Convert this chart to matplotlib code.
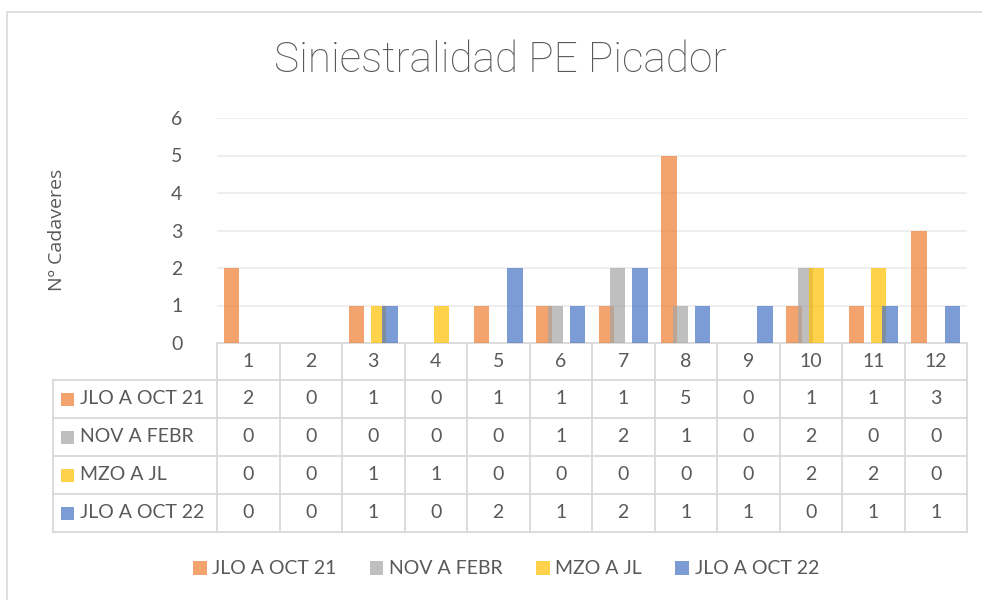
import matplotlib
matplotlib.use("Agg")

import matplotlib.pyplot as plt
import numpy as np
from matplotlib.patches import Rectangle
from matplotlib.lines import Line2D
from matplotlib.transforms import blended_transform_factory

plt.rcParams["font.family"] = ["Lato", "DejaVu Sans"]

# ── data ───────────────────────────────────────────────────────────────────
categories = ["1", "2", "3", "4", "5", "6", "7", "8", "9", "10", "11", "12"]
series_names = ["JLO A OCT 21", "NOV A FEBR", "MZO A JL", "JLO A OCT 22"]
jlo_oct_21 = [2, 0, 1, 0, 1, 1, 1, 5, 0, 1, 1, 3]
nov_febr   = [0, 0, 0, 0, 0, 1, 2, 1, 0, 2, 0, 0]
mzo_jl     = [0, 0, 1, 1, 0, 0, 0, 0, 0, 2, 2, 0]
jlo_oct_22 = [0, 0, 1, 0, 2, 1, 2, 1, 1, 0, 1, 1]
yticks = [0, 1, 2, 3, 4, 5, 6]

colors = ["#ED7D31", "#A5A5A5", "#FFC000", "#4472C4"]
TXT = "#595959"
LINE = "#D9D9D9"
FS = 14

W, H = 982, 600
fig = plt.figure(figsize=(W / 100, H / 100), dpi=100)
fig.patch.set_facecolor("white")


def fx(px):
    return px / W


def fy(py):
    return 1 - py / H


# outer chart border
fig.add_artist(Rectangle((fx(7), -0.05), 1.2, fy(12) + 0.05, transform=fig.transFigure,
                         facecolor="none", edgecolor=LINE, lw=1.2))

# plot area
ax = fig.add_axes([fx(217), fy(343), fx(967) - fx(217), fy(118) - fy(343)])
x = np.arange(1, len(categories) + 1)
all_vals = [jlo_oct_21, nov_febr, mzo_jl, jlo_oct_22]
width = 0.245
step = 0.178
bars = []
for k, (vals, c, name) in enumerate(zip(all_vals, colors, series_names)):
    b = ax.bar(x + (k - 1.5) * step, vals, width, color=c, alpha=0.7, label=name,
               linewidth=0, zorder=3)
    bars.append(b)

ax.set_xlim(0.5, len(categories) + 0.5)
ax.set_ylim(0, 6)
ax.set_yticks(yticks)
ax.set_xticks([])
ax.yaxis.grid(True, color="#EBEBEB", lw=1.2, zorder=0)
ax.tick_params(axis="y", length=0, pad=25, labelsize=FS, labelcolor=TXT)
for s in ax.spines.values():
    s.set_visible(False)

fig.text(fx(57), fy(230), "Nº Cadaveres", rotation=90, ha="center", va="center",
         fontsize=FS, color=TXT, family=["Open Sans", "DejaVu Sans"])

fig.text(fx(500), fy(61), "Siniestralidad PE Picador", ha="center", va="center",
         fontsize=30.5, color=TXT, fontweight="light", family=["Roboto", "DejaVu Sans"])

# ── data table below the axis ─────────────────────────────────────────────
tr = blended_transform_factory(ax.transData, fig.transFigure)
row_lines = [343, 380, 418, 456, 494, 532]
left_x = 0.5 + (53 - 217) / 62.5
n = len(categories)

# header row (category labels)
ax.add_line(Line2D([0.5, n + 0.5], [fy(343)] * 2, transform=tr, color=LINE, lw=1.3,
                   clip_on=False))
for yl in row_lines[1:]:
    ax.add_line(Line2D([left_x, n + 0.5], [fy(yl)] * 2, transform=tr, color=LINE, lw=1.3,
                       clip_on=False))
for i in range(n + 1):
    ax.add_line(Line2D([i + 0.5, i + 0.5], [fy(343), fy(532)], transform=tr, color=LINE,
                       lw=1.3, clip_on=False))
ax.add_line(Line2D([left_x, left_x], [fy(380), fy(532)], transform=tr, color=LINE, lw=1.3,
                   clip_on=False))

for i, cat in enumerate(categories):
    ax.text(i + 1, fy(361.5), cat, transform=tr, ha="center", va="center",
            fontsize=FS, color=TXT, clip_on=False)

for r, (vals, c, name) in enumerate(zip(all_vals, colors, series_names)):
    yc = (row_lines[r + 1] + row_lines[r + 2]) / 2
    fig.add_artist(Rectangle((fx(61), fy(yc + 7)), fx(13), 13 / H, transform=fig.transFigure,
                             facecolor=c, alpha=0.7, edgecolor="none"))
    fig.text(fx(80), fy(yc), name, ha="left", va="center", fontsize=FS, color=TXT)
    for i, v in enumerate(vals):
        ax.text(i + 1, fy(yc), str(v), transform=tr, ha="center", va="center",
                fontsize=FS, color=TXT, clip_on=False)

# legend
fig.legend(handles=bars, labels=series_names, loc="center", bbox_to_anchor=(fx(506), fy(569)),
           ncol=4, frameon=False, fontsize=FS, labelcolor=TXT, handlelength=0.7,
           handleheight=0.7, handletextpad=0.3, columnspacing=1.7)

plt.savefig("out.png", dpi=100)
plt.close()
